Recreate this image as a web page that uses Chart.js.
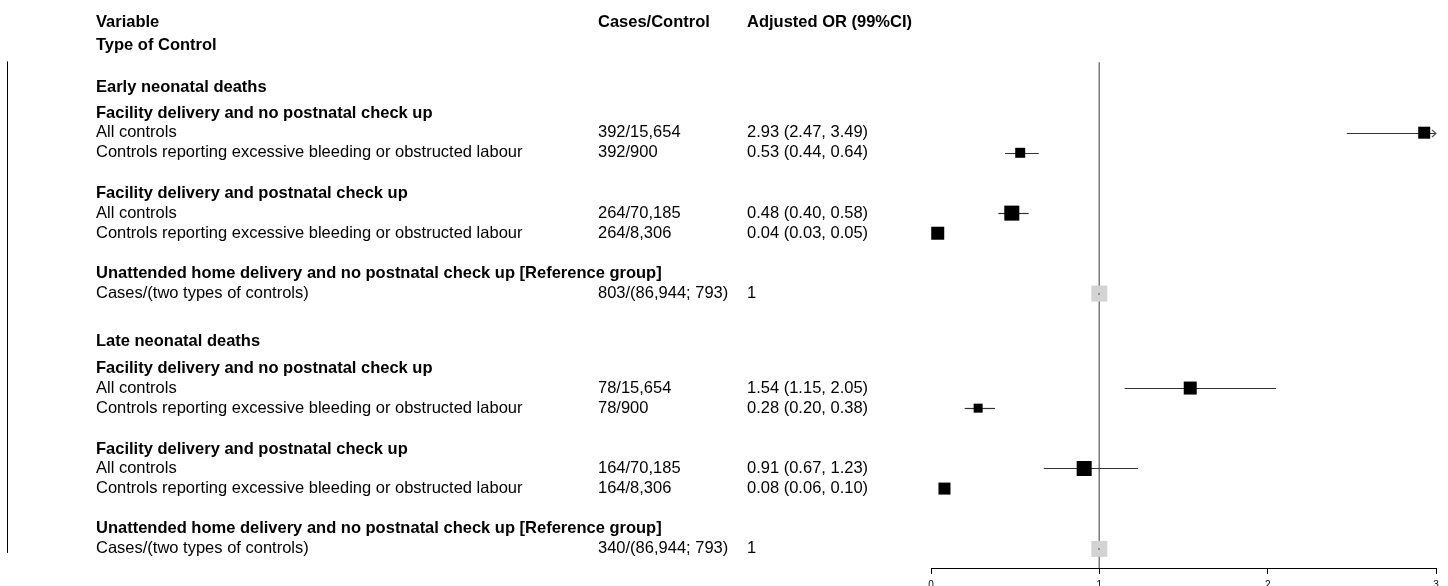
<!DOCTYPE html>
<html>
<head>
<meta charset="utf-8">
<script src="https://cdn.jsdelivr.net/npm/chart.js@4.4.1/dist/chart.umd.min.js"></script>
<style>
  html, body { margin: 0; padding: 0; background: #fff; overflow: hidden; }
  #wrap { width: 1448px; height: 600px; position: relative; }
</style>
</head>
<body>
<div id="wrap"><canvas id="c" width="1448" height="600"></canvas></div>
<script>
// ---------- data ----------
const columnHeaders = ["Variable", "Cases/Control", "Adjusted OR (99%CI)"];
const subHeader = "Type of Control";
const sectionTitles = ["Early neonatal deaths", "Late neonatal deaths"];
const sectionPos = [4.35, 17.0];
const groupTitles = [
  "Facility delivery and no postnatal check up",
  "Facility delivery and postnatal check up",
  "Unattended home delivery and no postnatal check up [Reference group]",
  "Facility delivery and no postnatal check up",
  "Facility delivery and postnatal check up",
  "Unattended home delivery and no postnatal check up [Reference group]"
];
const groupPos = [5.65, 9.6, 13.6, 18.35, 22.35, 26.3];
const rowLabels = [
  "All controls",
  "Controls reporting excessive bleeding or obstructed labour",
  "All controls",
  "Controls reporting excessive bleeding or obstructed labour",
  "Cases/(two types of controls)",
  "All controls",
  "Controls reporting excessive bleeding or obstructed labour",
  "All controls",
  "Controls reporting excessive bleeding or obstructed labour",
  "Cases/(two types of controls)"
];
const rowPos = [6.6, 7.6, 10.6, 11.6, 14.6, 19.3, 20.3, 23.3, 24.3, 27.3];
const casesControls = [
  "392/15,654", "392/900", "264/70,185", "264/8,306", "803/(86,944; 793)",
  "78/15,654", "78/900", "164/70,185", "164/8,306", "340/(86,944; 793)"
];
const orText = [
  "2.93 (2.47, 3.49)", "0.53 (0.44, 0.64)", "0.48 (0.40, 0.58)", "0.04 (0.03, 0.05)", "1",
  "1.54 (1.15, 2.05)", "0.28 (0.20, 0.38)", "0.91 (0.67, 1.23)", "0.08 (0.06, 0.10)", "1"
];
const oddsRatio = [2.93, 0.53, 0.48, 0.04, 1, 1.54, 0.28, 0.91, 0.08, 1];
const ciLower   = [2.47, 0.44, 0.40, 0.03, 1, 1.15, 0.20, 0.67, 0.06, 1];
const ciUpper   = [3.49, 0.64, 0.58, 0.05, 1, 2.05, 0.38, 1.23, 0.10, 1];
const weights   = [12, 10, 15, 13, 16, 13, 9, 15, 12, 16];
const isReference = [false, false, false, false, true, false, false, false, false, true];
const xTicks = [0, 1, 2, 3];

// ---------- chart ----------
const FONT = '"Liberation Sans", Arial, Helvetica, sans-serif';
const X_MAX = xTicks[xTicks.length - 1];

const estPoints = [], refPoints = [], estRadius = [], refRadius = [];
oddsRatio.forEach((v, i) => {
  const p = { x: v, y: rowPos[i] };
  const r = weights[i] / Math.SQRT2;
  if (isReference[i]) { refPoints.push(p); refRadius.push(r); }
  else { estPoints.push(p); estRadius.push(r); }
});

const forestPlugin = {
  id: 'forest',
  beforeDatasetsDraw(chart) {
    const { ctx, scales: { x, y }, chartArea } = chart;
    ctx.save();
    // left rule
    ctx.strokeStyle = '#000';
    ctx.lineWidth = 1;
    ctx.beginPath();
    ctx.moveTo(7.5, y.getPixelForValue(3.05));
    ctx.lineTo(7.5, y.getPixelForValue(27.5));
    ctx.stroke();
    // reference line at OR = 1
    ctx.strokeStyle = '#7a7a7a';
    ctx.lineWidth = 1.5;
    ctx.beginPath();
    const xr = Math.round(x.getPixelForValue(1)) + 0.25;
    ctx.moveTo(xr, y.getPixelForValue(3.1));
    ctx.lineTo(xr, chartArea.bottom);
    ctx.stroke();
    // confidence intervals
    oddsRatio.forEach((v, i) => {
      if (isReference[i]) return;
      const yy = Math.round(y.getPixelForValue(rowPos[i])) + 0.5;
      const clipped = ciUpper[i] > X_MAX;
      const x0 = x.getPixelForValue(Math.max(ciLower[i], 0));
      const x1 = x.getPixelForValue(Math.min(ciUpper[i], X_MAX));
      ctx.strokeStyle = '#333';
      ctx.lineWidth = 1.2;
      ctx.beginPath();
      ctx.moveTo(x0, yy);
      ctx.lineTo(x1, yy);
      ctx.stroke();
      if (clipped) {
        ctx.strokeStyle = '#555';
        ctx.lineWidth = 1.2;
        ctx.beginPath();
        ctx.moveTo(x1 - 4, yy - 3.5);
        ctx.lineTo(x1, yy);
        ctx.lineTo(x1 - 4, yy + 3.5);
        ctx.stroke();
      }
    });
    ctx.restore();
  },
  afterDraw(chart) {
    const { ctx, scales: { y } } = chart;
    ctx.save();
    ctx.fillStyle = '#000';
    ctx.textBaseline = 'middle';
    ctx.textAlign = 'left';
    const colX = [96, 598, 747];
    ctx.font = 'bold 16.5px ' + FONT;
    const yh = y.getPixelForValue(1.1);
    columnHeaders.forEach((t, i) => ctx.fillText(t, colX[i], yh));
    ctx.fillText(subHeader, colX[0], y.getPixelForValue(2.25));
    sectionTitles.forEach((t, i) => ctx.fillText(t, colX[0], y.getPixelForValue(sectionPos[i])));
    groupTitles.forEach((t, i) => ctx.fillText(t, colX[0], y.getPixelForValue(groupPos[i])));
    ctx.font = '16.5px ' + FONT;
    rowLabels.forEach((t, i) => {
      const yy = y.getPixelForValue(rowPos[i]);
      ctx.fillText(t, colX[0], yy);
      ctx.fillText(casesControls[i], colX[1], yy);
      ctx.fillText(orText[i], colX[2], yy);
    });
    // tiny mark inside reference boxes
    ctx.fillStyle = '#555';
    oddsRatio.forEach((v, i) => {
      if (!isReference[i]) return;
      const px = chart.scales.x.getPixelForValue(v);
      const py = y.getPixelForValue(rowPos[i]);
      ctx.fillRect(Math.round(px) - 1, Math.round(py) - 0.5, 2, 1);
    });
    ctx.restore();
  }
};

new Chart(document.getElementById('c'), {
  type: 'scatter',
  data: {
    datasets: [
      {
        data: refPoints,
        pointStyle: 'rect',
        pointRadius: refRadius,
        pointHoverRadius: refRadius,
        backgroundColor: '#d3d3d3',
        borderColor: '#d3d3d3',
        borderWidth: 0,
        clip: false
      },
      {
        data: estPoints,
        pointStyle: 'rect',
        pointRadius: estRadius,
        pointHoverRadius: estRadius,
        backgroundColor: '#000',
        borderColor: '#000',
        borderWidth: 0,
        clip: false
      }
    ]
  },
  options: {
    responsive: false,
    animation: false,
    events: [],
    layout: { autoPadding: false, padding: { left: 931, right: 12, top: 0, bottom: 4 } },
    plugins: { legend: { display: false }, tooltip: { enabled: false } },
    scales: {
      x: {
        type: 'linear',
        min: xTicks[0],
        max: X_MAX,
        afterBuildTicks: (s) => { s.ticks = xTicks.map(v => ({ value: v })); },
        grid: { display: true, drawOnChartArea: false, drawTicks: true, tickLength: 6, color: '#000', lineWidth: 1 },
        border: { display: true, color: '#000', width: 1 },
        ticks: { color: '#000', font: { family: FONT, size: 10 }, padding: 5, maxRotation: 0 }
      },
      y: {
        type: 'linear',
        display: false,
        reverse: true,
        min: 0,
        max: 28.25
      }
    }
  },
  plugins: [forestPlugin]
});
</script>
</body>
</html>
